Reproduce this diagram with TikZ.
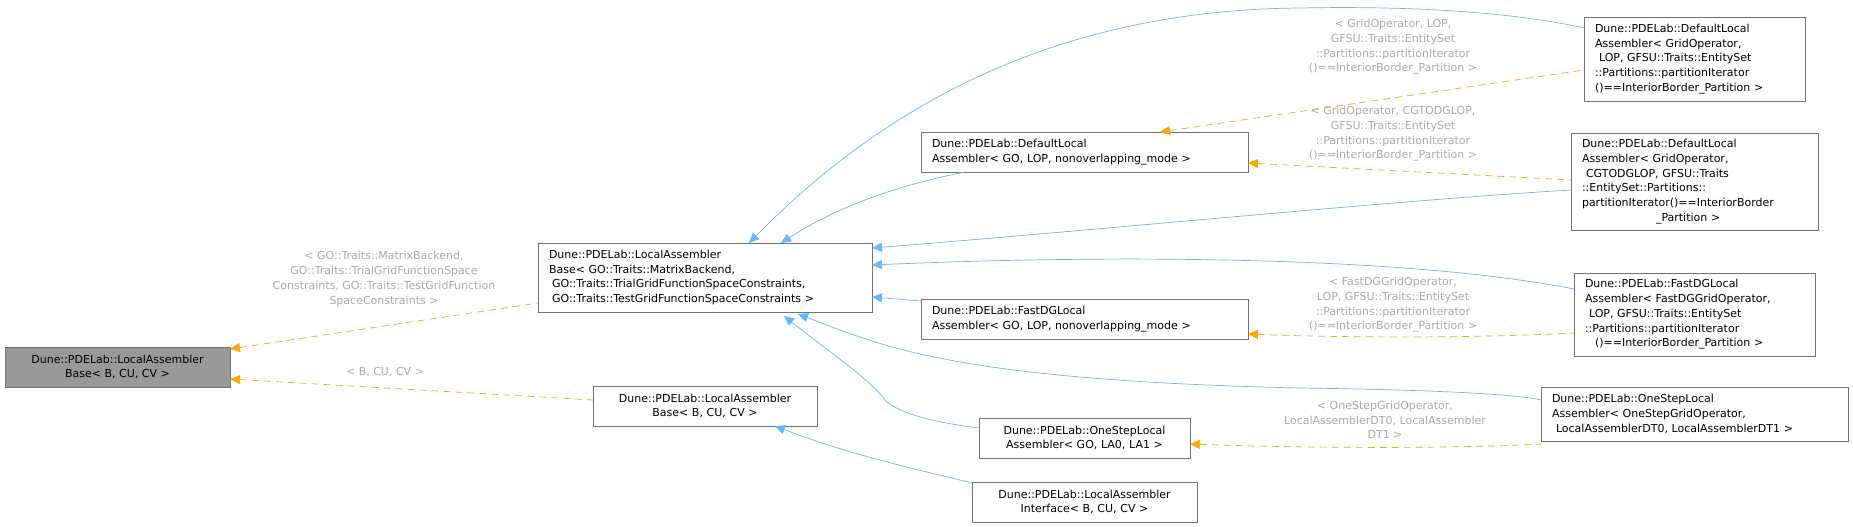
\documentclass[tikz,border=0pt]{standalone}
\usepackage{fontspec}
\setmainfont{DejaVu Sans}
\usetikzlibrary{arrows.meta}
\definecolor{eb}{HTML}{63B8FF}
\definecolor{eo}{HTML}{FFA500}
\definecolor{lb}{HTML}{AAAAAA}
\begin{document}
\begin{tikzpicture}[x=1pt,y=-1pt,
  box/.style={draw=black!55,fill=white,inner sep=0pt,line width=0.7pt,font=\fontsize{11}{14.7}\selectfont},
  inh/.style={draw=eb,line width=0.7pt,{Triangle[length=10pt,width=9pt,fill=eb]}-},
  tpl/.style={draw=eo,line width=0.7pt,dash pattern=on 7pt off 5pt,{Triangle[length=10pt,width=9pt,fill=eo]}-},
  lab/.style={text=lb,align=center,font=\fontsize{11}{14.7}\selectfont}]
\useasboundingbox (0,0) rectangle (1853,527);
\def\bx#1#2#3#4#5#6#7{\node[box,minimum width={(#4-#2)*1pt},minimum height={(#5-#3)*1pt},text width={(#4-#2-22)*1pt},align=#6] (#1) at ({(#2+#4)/2},{(#3+#5)/2}) {#7};}
\node[box,fill=black!40,minimum width=225pt,minimum height=40pt,align=center] (A) at (117.5,367) {Dune::PDELab::LocalAssembler\\Base< B, CU, CV >};
\bx{B}{538}{243}{872}{312}{left}{Dune::PDELab::LocalAssembler\\Base< GO::Traits::MatrixBackend,\\ \hspace*{3pt}GO::Traits::TrialGridFunctionSpaceConstraints,\\ \hspace*{3pt}GO::Traits::TestGridFunctionSpaceConstraints >}
\bx{C}{593}{386}{817}{426}{center}{Dune::PDELab::LocalAssembler\\Base< B, CU, CV >}
\bx{D}{921}{132}{1248}{172}{left}{Dune::PDELab::DefaultLocal\\Assembler< GO, LOP, nonoverlapping\_mode >}
\bx{E}{921}{299}{1248}{339}{left}{Dune::PDELab::FastDGLocal\\Assembler< GO, LOP, nonoverlapping\_mode >}
\bx{F}{979}{418}{1190}{458}{center}{Dune::PDELab::OneStepLocal\\Assembler< GO, LA0, LA1 >}
\bx{G}{972}{482}{1197}{522}{center}{Dune::PDELab::LocalAssembler\\Interface< B, CU, CV >}
\bx{H}{1584}{17}{1805}{101}{left}{Dune::PDELab::DefaultLocal\\Assembler< GridOperator,\\ \hspace*{4pt}LOP, GFSU::Traits::EntitySet\\::Partitions::partitionIterator\\()==InteriorBorder\_Partition >}
\bx{I}{1571}{133}{1818}{230}{left}{Dune::PDELab::DefaultLocal\\Assembler< GridOperator,\\ \hspace*{4pt}CGTODGLOP, GFSU::Traits\\::EntitySet::Partitions::\\partitionIterator()==InteriorBorder\\ \hspace*{74pt}\_Partition >}
\bx{J}{1574}{273}{1815}{356}{left}{Dune::PDELab::FastDGLocal\\Assembler< FastDGGridOperator,\\ \hspace*{4pt}LOP, GFSU::Traits::EntitySet\\::Partitions::partitionIterator\\ \hspace*{10pt}()==InteriorBorder\_Partition >}
\bx{K}{1541}{387}{1848}{441}{left}{Dune::PDELab::OneStepLocal\\Assembler< OneStepGridOperator,\\ \hspace*{4pt}LocalAssemblerDT0, LocalAssemblerDT1 >}
% blue inheritance
\draw[inh] (749,243) .. controls (880,110) and (1050,10) .. (1300,8) .. controls (1450,5) and (1540,18) .. (1584,28);
\draw[inh] (781,243) .. controls (840,205) and (900,185) .. (965,172);
\draw[inh] (872,248) .. controls (1100,230) and (1400,200) .. (1571,190);
\draw[inh] (872,265) .. controls (1100,255) and (1400,255) .. (1574,289);
\draw[inh] (872,297) -- (921,301);
\draw[inh] (798,314) .. controls (880,345) and (950,380) .. (1300,388) .. controls (1450,390) and (1520,395) .. (1541,400);
\draw[inh] (784,316) .. controls (840,360) and (870,380) .. (885,400) .. controls (900,415) and (940,423) .. (979,428);
\draw[inh] (775,426) .. controls (850,455) and (920,470) .. (972,483);
% orange template
\draw[tpl] (230,349) -- (538,303);
\draw[tpl] (230,379) -- (593,400);
\draw[tpl] (1160,132) -- (1584,70);
\draw[tpl] (1248,163) -- (1571,180);
\draw[tpl] (1248,334) .. controls (1350,338) and (1480,338) .. (1574,333);
\draw[tpl] (1190,444) .. controls (1300,448) and (1450,449) .. (1541,444);
% labels
\node[lab] at (384,279) {< GO::Traits::MatrixBackend,\\ GO::Traits::TrialGridFunctionSpace\\ Constraints, GO::Traits::TestGridFunction\\ SpaceConstraints >};
\node[lab] at (385,372) {< B, CU, CV >};
\node[lab] at (1393,47) {< GridOperator, LOP,\\ GFSU::Traits::EntitySet\\ ::Partitions::partitionIterator\\ ()==InteriorBorder\_Partition >};
\node[lab] at (1393,134) {< GridOperator, CGTODGLOP,\\ GFSU::Traits::EntitySet\\ ::Partitions::partitionIterator\\ ()==InteriorBorder\_Partition >};
\node[lab] at (1393,305) {< FastDGGridOperator,\\ LOP, GFSU::Traits::EntitySet\\ ::Partitions::partitionIterator\\ ()==InteriorBorder\_Partition >};
\node[lab] at (1385,420) {< OneStepGridOperator,\\ LocalAssemblerDT0, LocalAssembler\\ DT1 >};
\end{tikzpicture}
\end{document}
